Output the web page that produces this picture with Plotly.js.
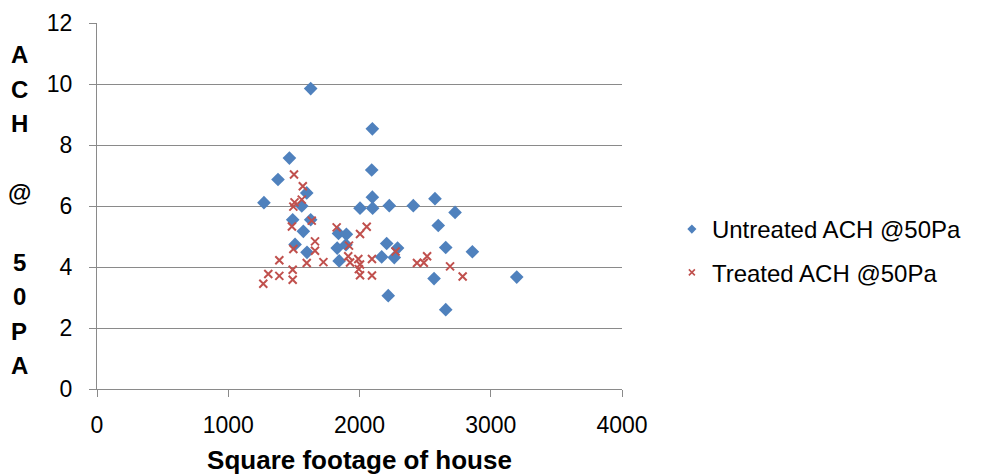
<!DOCTYPE html>
<html>
<head>
<meta charset="utf-8">
<script src="https://cdn.plot.ly/plotly-3.0.1.min.js"></script>
<style>html,body{margin:0;padding:0;background:#fff;}#chart{width:992px;height:475px;}</style>
</head>
<body>
<div id="chart"></div>
<script>
// Untreated ACH @50Pa
const untreatedSqft = [1272, 1379, 1466, 1628, 1598, 1560, 1491, 1628, 1572, 1509, 1600,
  1840, 1900, 1830, 1897, 1845, 2004, 2098, 2093, 2098, 2100, 2227, 2410, 2575, 2728,
  2600, 2207, 2290, 2169, 2265, 2657, 2860, 3198, 2568, 2219, 2657];
const untreatedACH = [6.11, 6.87, 7.57, 9.85, 6.43, 6.0, 5.55, 5.55, 5.17, 4.74, 4.48,
  5.1, 5.07, 4.62, 4.73, 4.2, 5.93, 8.53, 7.18, 6.29, 5.93, 6.01, 6.01, 6.24, 5.79,
  5.36, 4.77, 4.62, 4.33, 4.31, 4.64, 4.50, 3.67, 3.62, 3.06, 2.60];

// Treated ACH @50Pa
const treatedSqft = [1267, 1305, 1389, 1389, 1491, 1491, 1496, 1485, 1496, 1505, 1560,
  1501, 1568, 1636, 1661, 1661, 1598, 1725, 1826, 1920, 1914, 1928, 1991, 2004, 1995,
  2004, 2004, 2055, 2095, 2095, 2275, 2438, 2490, 2515, 2690, 2786];
const treatedACH = [3.45, 3.77, 3.71, 4.22, 3.58, 3.91, 4.59, 5.33, 5.98, 6.12, 6.21,
  7.03, 6.65, 5.52, 4.84, 4.53, 4.13, 4.16, 5.30, 4.70, 4.35, 4.15, 4.26, 4.08, 3.93,
  3.73, 5.08, 5.32, 4.26, 3.72, 4.51, 4.13, 4.14, 4.35, 4.02, 3.69];

const seriesNames = ['Untreated ACH @50Pa', 'Treated ACH @50Pa'];
const xTickVals = [0, 1000, 2000, 3000, 4000];
const yTickVals = [0, 2, 4, 6, 8, 10, 12];
const xTitle = 'Square footage of house';
const yTitleChars = ['A', 'C', 'H', '', '@', '', '5', '0', 'P', 'A'];

const FONT = 'Arial, "Liberation Sans", sans-serif';
const GRID = '#8a8a8a';
const BLUE = '#4F81BD', RED = '#C0504D';

const traces = [
  {
    x: untreatedSqft, y: untreatedACH, name: seriesNames[0], type: 'scatter', mode: 'markers',
    showlegend: false,
    marker: {symbol: 'diamond', size: 10.5, color: BLUE}
  },
  {
    x: treatedSqft, y: treatedACH, name: seriesNames[1], type: 'scatter', mode: 'markers',
    showlegend: false,
    marker: {symbol: 'x-thin', size: 8, color: RED, line: {color: RED, width: 2}}
  },
  // legend entries (smaller legend symbols, as in the original)
  {
    x: [null], y: [null], name: seriesNames[0], type: 'scatter', mode: 'markers',
    legendgroup: 'a',
    marker: {symbol: 'diamond', size: 7, color: BLUE}
  },
  {
    x: [null], y: [null], name: seriesNames[1], type: 'scatter', mode: 'markers',
    legendgroup: 'b',
    marker: {symbol: 'x-thin', size: 6, color: RED, line: {color: RED, width: 1.6}}
  }
];

// y title letters stacked vertically
const annotations = [];
const plotTop = 23, plotH = 366, firstLetterPx = 54.5, letterStep = 34.6;
yTitleChars.forEach((ch, i) => {
  if (!ch) return;
  const py = firstLetterPx + i * letterStep;
  annotations.push({
    text: ch, xref: 'paper', yref: 'paper',
    x: (19 - 97) / 525, y: 1 - (py - plotTop) / plotH,
    xanchor: 'center', yanchor: 'middle', showarrow: false,
    font: {family: FONT, size: 24, color: '#000', weight: 'bold'}
  });
});

const layout = {
  width: 992, height: 475,
  margin: {l: 97, r: 370, t: 23, b: 86, pad: 0},
  paper_bgcolor: '#fff', plot_bgcolor: '#fff',
  font: {family: FONT, size: 23, color: '#000'},
  showlegend: true,
  legend: {
    x: 1.095, xanchor: 'left', y: 0.377, yanchor: 'middle',
    font: {family: FONT, size: 24, color: '#000'},
    tracegroupgap: 9, bgcolor: 'rgba(0,0,0,0)'
  },
  xaxis: {
    range: [0, 4000], tickvals: xTickVals, ticktext: xTickVals.map(String),
    showgrid: false, zeroline: false,
    showline: true, linecolor: GRID, linewidth: 1,
    ticks: 'outside', ticklen: 7, tickcolor: GRID, tickwidth: 1,
    tickfont: {family: FONT, size: 23, color: '#000'},
    ticklabelstandoff: 8,
    title: {text: xTitle, font: {family: FONT, size: 26, color: '#000', weight: 'bold'}, standoff: 14},
    fixedrange: true
  },
  yaxis: {
    range: [0, 12], tickvals: yTickVals, ticktext: yTickVals.map(String),
    showgrid: true, gridcolor: GRID, gridwidth: 1, zeroline: false,
    showline: true, linecolor: GRID, linewidth: 1,
    ticks: 'outside', ticklen: 7, tickcolor: GRID, tickwidth: 1,
    tickfont: {family: FONT, size: 23, color: '#000'},
    ticklabelstandoff: 12,
    fixedrange: true
  },
  annotations: annotations
};

Plotly.newPlot('chart', traces, layout, {displayModeBar: false, staticPlot: true});
</script>
</body>
</html>
